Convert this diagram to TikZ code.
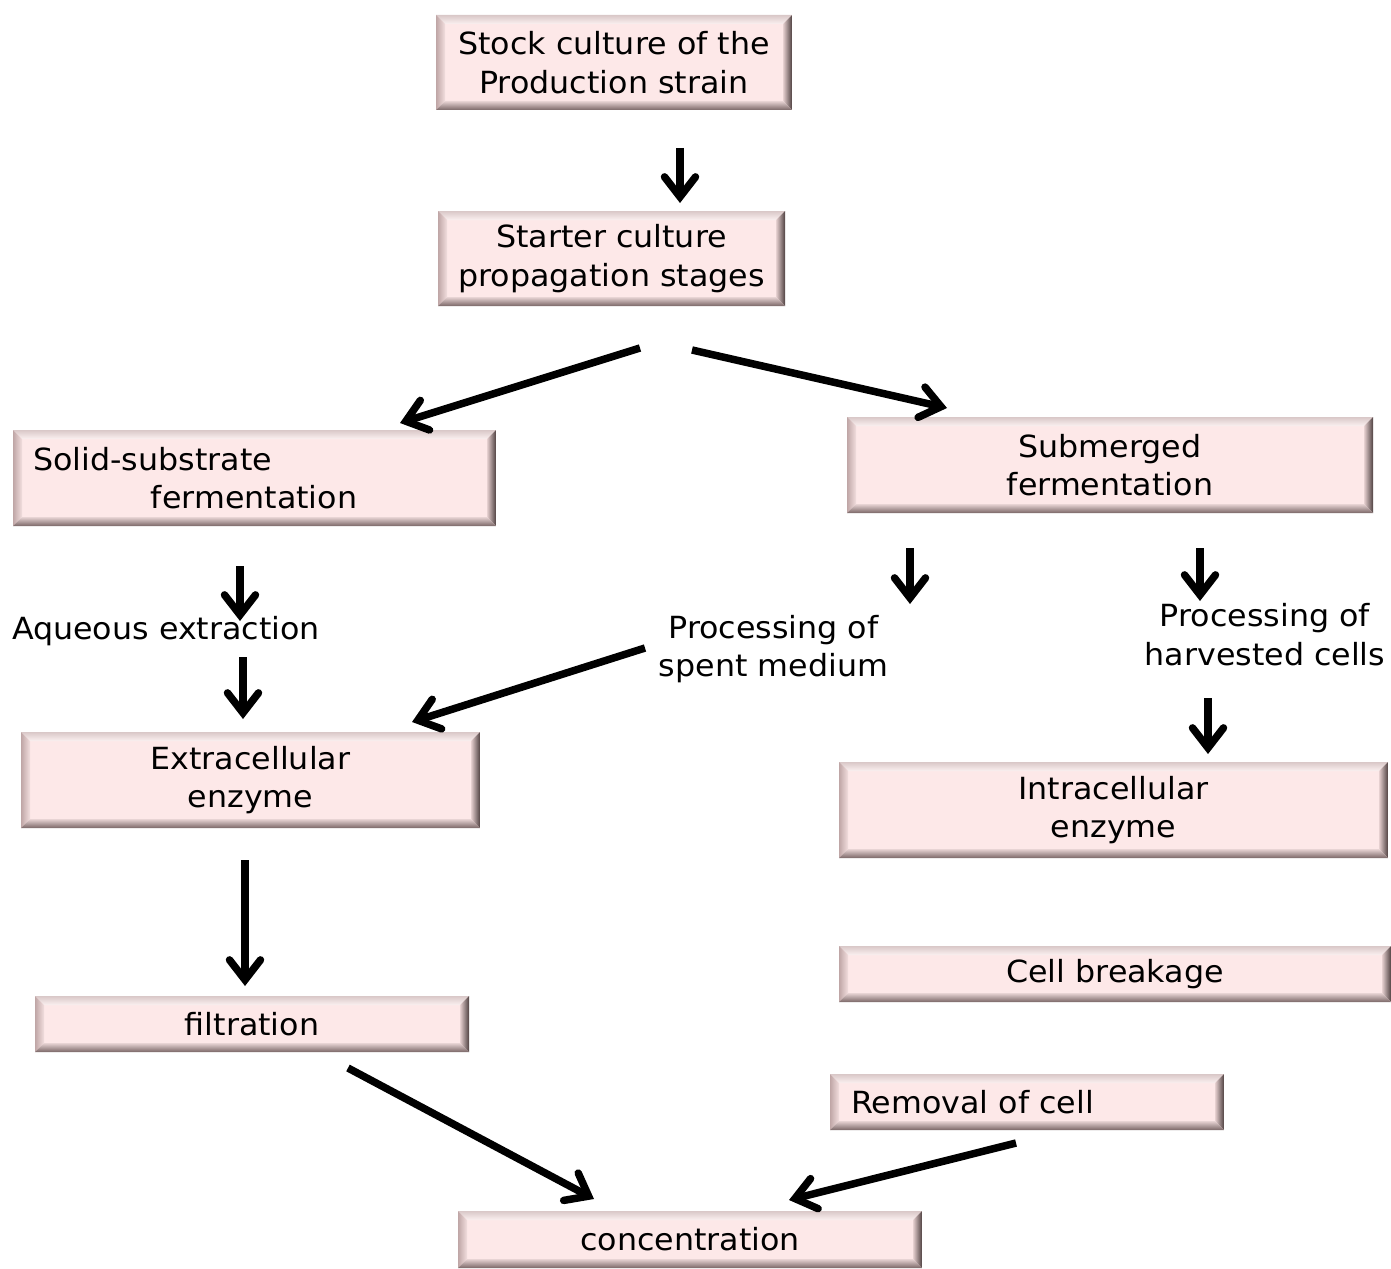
\documentclass[tikz,border=0pt]{standalone}
\usepackage{fontspec}
\setmainfont{DejaVu Sans}[FakeStretch=1.04]
\usetikzlibrary{arrows.meta}
\definecolor{boxfill}{HTML}{FDE8E8}
\definecolor{bvtopA}{HTML}{D9C8C8}
\definecolor{bvtopB}{HTML}{FBF0F0}
\definecolor{bvleftA}{HTML}{BFA6A6}
\definecolor{bvleftB}{HTML}{F2DEDE}
\definecolor{bvrightA}{HTML}{E6D0D0}
\definecolor{bvrightB}{HTML}{4F4141}
\definecolor{bvbotA}{HTML}{E8D4D4}
\definecolor{bvbotB}{HTML}{7A6767}
\tikzset{
  bevel/.style={path picture={
    \def\bw{9pt}
    \coordinate (bvnw) at (path picture bounding box.north west);
    \coordinate (bvse) at (path picture bounding box.south east);
    \coordinate (bvne) at (bvnw -| bvse);
    \coordinate (bvsw) at (bvnw |- bvse);
    \coordinate (inw) at ([shift={(\bw,-\bw)}]bvnw);
    \coordinate (ine) at ([shift={(-\bw,-\bw)}]bvne);
    \coordinate (isw) at ([shift={(\bw,\bw)}]bvsw);
    \coordinate (ise) at ([shift={(-\bw,\bw)}]bvse);
    \shade[top color=bvtopA, bottom color=bvtopB] (bvnw) -- (bvne) -- (ine) -- (inw) -- cycle;
    \shade[left color=bvleftA, right color=bvleftB] (bvnw) -- (inw) -- (isw) -- (bvsw) -- cycle;
    \shade[left color=bvrightA, right color=bvrightB] (bvne) -- (ine) -- (ise) -- (bvse) -- cycle;
    \shade[top color=bvbotA, bottom color=bvbotB] (bvsw) -- (isw) -- (ise) -- (bvse) -- cycle;
  }},
  box/.style={bevel, fill=boxfill, inner sep=0pt, align=center,
    font=\fontsize{30.5}{38.5}\selectfont},
  lbl/.style={inner sep=0pt, align=center, font=\fontsize{30.5}{38.5}\selectfont},
  arr/.style={line width=7.5pt,
    -{Straight Barb[length=20pt,width=31pt,line cap=round,line join=miter]}},
}
\begin{document}
\begin{tikzpicture}[x=1pt,y=-1pt]
\useasboundingbox (0,0) rectangle (1391,1268);

% process boxes
\node[box, minimum width=356pt, minimum height=95pt] (stock) at (614,62.5)
  {Stock culture of the\\Production strain};
\node[box, minimum width=347pt, minimum height=95pt] (starter) at (611.5,258.5)
  {Starter culture\\propagation stages};
\node[box, minimum width=483pt, minimum height=96pt, align=left,
  text width=443pt] (solid) at (254.5,478)
  {Solid-substrate\\\hspace*{118pt}fermentation};
\node[box, minimum width=526pt, minimum height=96pt] (submerged) at (1110,465)
  {Submerged\\fermentation};
\node[box, minimum width=459pt, minimum height=96pt] (extra) at (250.5,780)
  {Extracellular\\enzyme};
\node[box, minimum width=549pt, minimum height=96pt] (intra) at (1113.5,810)
  {Intracellular\\enzyme};
\node[box, minimum width=552pt, minimum height=56pt] (breakage) at (1115,974)
  {Cell breakage};
\node[box, minimum width=434pt, minimum height=56pt] (filtration) at (252,1024)
  {filtration};
\node[box, minimum width=394pt, minimum height=56pt, align=left,
  text width=352pt] (removal) at (1027,1102)
  {Removal of cell};
\node[box, minimum width=464pt, minimum height=57pt] (conc) at (690,1239.5)
  {concentration};

% free labels
\node[lbl] (aqueous) at (166,631) {Aqueous extraction};
\node[lbl] (spent) at (773.5,649) {Processing of\\spent medium};
\node[lbl] (harvest) at (1265,634.5) {Processing of\\harvested cells};

% arrow ends
\coordinate (a1s) at (680,148);   \coordinate (a1e) at (680,203);
\coordinate (a2s) at (640,348);   \coordinate (a2e) at (400,423);
\coordinate (a3s) at (692,350);   \coordinate (a3e) at (947,408);
\coordinate (a4s) at (240,566);   \coordinate (a4e) at (240,621);
\coordinate (a5s) at (243,657);   \coordinate (a5e) at (243,719);
\coordinate (a6s) at (910,548);   \coordinate (a6e) at (910,604);
\coordinate (a7s) at (1200,548);  \coordinate (a7e) at (1200,601);
\coordinate (a8s) at (645,648);   \coordinate (a8e) at (412,722);
\coordinate (a9s) at (1208,698);  \coordinate (a9e) at (1208,754);
\coordinate (a10s) at (245,860);  \coordinate (a10e) at (245,986);
\coordinate (a11s) at (348,1068); \coordinate (a11e) at (594,1199);
\coordinate (a12s) at (1016,1143);\coordinate (a12e) at (789,1200);

\foreach \k in {1,...,12}
  \draw[arr] (a\k s) -- (a\k e);
\end{tikzpicture}
\end{document}
